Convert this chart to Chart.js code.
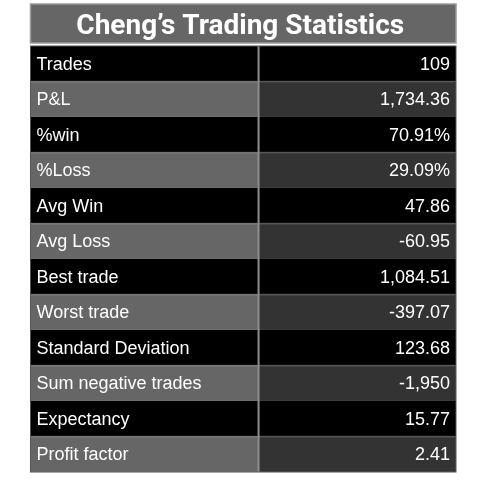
<!DOCTYPE html>
<html>
<head>
<meta charset="utf-8">
<title>Cheng's Trading Statistics</title>
<script src="https://cdn.jsdelivr.net/npm/chart.js@4"></script>
<style>
  html, body { margin: 0; padding: 0; background: #fff; }
  #wrap { width: 485px; height: 485px; }
</style>
</head>
<body>
<div id="wrap"><canvas id="statsTable" width="485" height="485"></canvas></div>
<script>
// table content
const chartTitle = 'Cheng\u2019s Trading Statistics';
const statNames = [
    'Trades', 'P&L', '%win', '%Loss', 'Avg Win', 'Avg Loss',
    'Best trade', 'Worst trade', 'Standard Deviation',
    'Sum negative trades', 'Expectancy', 'Profit factor'
];
const statValues = [
    '109', '1,734.36', '70.91%', '29.09%', '47.86', '-60.95',
    '1,084.51', '-397.07', '123.68', '-1,950', '15.77', '2.41'
];

// layout / style
const SPLIT = 0.536; // where the label column ends (fraction of table width)
const LEFT_DARK = '#000000', RIGHT_DARK = '#000000';
const LEFT_LIGHT = '#666666', RIGHT_LIGHT = '#333333';
const cellFont = '18px "Liberation Sans", Arial, sans-serif';

const isLight = i => i % 2 === 1;

const tablePlugin = {
    id: 'tableText',
    beforeDraw(chart) {
        const ctx = chart.ctx;
        const area = chart.chartArea;
        // title bar
        ctx.save();
        ctx.fillStyle = '#666666';
        ctx.fillRect(area.left, 4, area.right - area.left, 39);
        ctx.strokeStyle = '#9a9a9a';
        ctx.lineWidth = 1.5;
        ctx.strokeRect(area.left, 4, area.right - area.left, 39);
        ctx.fillStyle = '#ffffff';
        ctx.font = 'bold 28px Roboto, sans-serif';
        ctx.textAlign = 'center';
        ctx.textBaseline = 'alphabetic';
        ctx.fillText(chartTitle, (area.left + area.right) / 2 - 3, 33.5);
        ctx.restore();
    },
    afterDatasetsDraw(chart) {
        const ctx = chart.ctx;
        const area = chart.chartArea;
        const xScale = chart.scales.x;
        const rows = chart.getDatasetMeta(0).data;

        ctx.save();
        // column divider
        const divX = xScale.getPixelForValue(SPLIT);
        ctx.strokeStyle = '#8c8c8c';
        ctx.lineWidth = 2;
        ctx.beginPath();
        ctx.moveTo(divX, area.top);
        ctx.lineTo(divX, area.bottom);
        ctx.stroke();
        // outer border
        ctx.strokeStyle = '#555555';
        ctx.lineWidth = 1;
        ctx.strokeRect(area.left, area.top, area.right - area.left, area.bottom - area.top);

        ctx.fillStyle = '#ffffff';
        ctx.font = cellFont;
        ctx.textBaseline = 'middle';
        rows.forEach((bar, i) => {
            ctx.textAlign = 'left';
            ctx.fillText(statNames[i], area.left + 6, bar.y + 1);
            ctx.textAlign = 'right';
            ctx.fillText(statValues[i], area.right - 6, bar.y + 1);
        });
        ctx.restore();
    }
};

new Chart(document.getElementById('statsTable'), {
    type: 'bar',
    data: {
        labels: statNames,
        datasets: [
            {
                label: 'name',
                data: statNames.map(() => [0, SPLIT]),
                backgroundColor: statNames.map((_, i) => isLight(i) ? LEFT_LIGHT : LEFT_DARK),
                borderColor: statNames.map((_, i) => isLight(i) ? '#7a7a7a' : LEFT_DARK),
                borderWidth: 1,
                grouped: false,
                barPercentage: 1,
                categoryPercentage: 1
            },
            {
                label: 'value',
                data: statNames.map(() => [SPLIT, 1]),
                backgroundColor: statNames.map((_, i) => isLight(i) ? RIGHT_LIGHT : RIGHT_DARK),
                borderColor: statNames.map((_, i) => isLight(i) ? '#444444' : RIGHT_DARK),
                borderWidth: 1,
                grouped: false,
                barPercentage: 1,
                categoryPercentage: 1
            }
        ]
    },
    options: {
        indexAxis: 'y',
        responsive: false,
        animation: false,
        layout: { padding: { left: 30.5, right: 29, top: 46, bottom: 13 } },
        plugins: {
            legend: { display: false },
            tooltip: { enabled: false }
        },
        scales: {
            x: { display: false, min: 0, max: 1 },
            y: { display: false }
        }
    },
    plugins: [tablePlugin]
});
</script>
</body>
</html>
